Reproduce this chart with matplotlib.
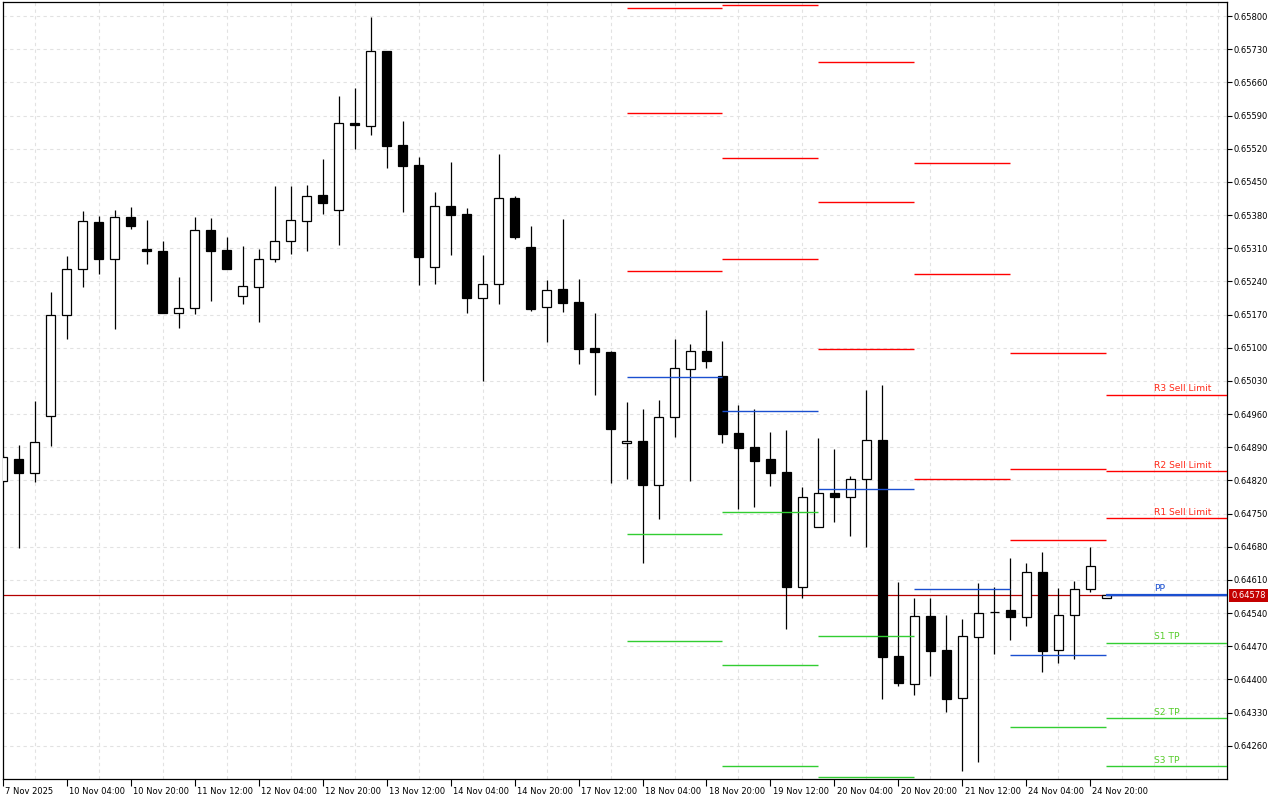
import matplotlib
matplotlib.use("Agg")
import matplotlib.pyplot as plt
import matplotlib.transforms as mtrans
from matplotlib.ticker import FixedLocator, MultipleLocator
import numpy as np

# H4 bars, 7 Nov 12:00 .. 25 Nov 00:00
opens = [0.64819, 0.64865, 0.64836, 0.64956, 0.65169, 0.65266, 0.65365, 0.65287, 0.65376, 0.65308,
         0.65304, 0.65173, 0.65184, 0.65348, 0.65306, 0.65209, 0.65228, 0.65287, 0.65325, 0.65367,
         0.65422, 0.65391, 0.65574, 0.65568, 0.65726, 0.65528, 0.65486, 0.65270, 0.65399, 0.65382,
         0.65205, 0.65234, 0.65416, 0.65312, 0.65186, 0.65224, 0.65196, 0.65099, 0.65091, 0.64899,
         0.64903, 0.64810, 0.64954, 0.65055, 0.65093, 0.65040, 0.64920, 0.64890, 0.64865, 0.64838,
         0.64595, 0.64722, 0.64793, 0.64785, 0.64823, 0.64905, 0.64449, 0.64390, 0.64534, 0.64462,
         0.64361, 0.64489, 0.64542, 0.64546, 0.64532, 0.64627, 0.64462, 0.64536, 0.64591, 0.64572]
highs = [0.64874, 0.64895, 0.64987, 0.65218, 0.65293, 0.65388, 0.65378, 0.65391, 0.65397, 0.65369,
         0.65325, 0.65249, 0.65376, 0.65374, 0.65334, 0.65315, 0.65308, 0.65441, 0.65441, 0.65443,
         0.65498, 0.65631, 0.65648, 0.65798, 0.65726, 0.65578, 0.65502, 0.65429, 0.65492, 0.65395,
         0.65296, 0.65509, 0.65420, 0.65357, 0.65243, 0.65372, 0.65245, 0.65173, 0.65093, 0.64985,
         0.64971, 0.64990, 0.65118, 0.65108, 0.65180, 0.65114, 0.64979, 0.64971, 0.64922, 0.64926,
         0.64806, 0.64909, 0.64886, 0.64829, 0.65011, 0.65021, 0.64606, 0.64572, 0.64572, 0.64536,
         0.64527, 0.64603, 0.64595, 0.64656, 0.64646, 0.64669, 0.64593, 0.64608, 0.64679, 0.64578]
lows = [0.64817, 0.64677, 0.64817, 0.64892, 0.65118, 0.65228, 0.65256, 0.65139, 0.65350, 0.65277,
        0.65173, 0.65142, 0.65171, 0.65199, 0.65266, 0.65192, 0.65154, 0.65281, 0.65298, 0.65304,
        0.65382, 0.65317, 0.65519, 0.65549, 0.65479, 0.65386, 0.65232, 0.65234, 0.65296, 0.65173,
        0.65030, 0.65192, 0.65329, 0.65177, 0.65112, 0.65175, 0.65066, 0.65000, 0.64814, 0.64823,
        0.64646, 0.64738, 0.64911, 0.64819, 0.65057, 0.64899, 0.64760, 0.64764, 0.64808, 0.64506,
        0.64572, 0.64722, 0.64732, 0.64703, 0.64679, 0.64359, 0.64386, 0.64367, 0.64407, 0.64331,
        0.64207, 0.64226, 0.64454, 0.64483, 0.64513, 0.64416, 0.64435, 0.64443, 0.64584, 0.64572]
closes = [0.64869, 0.64836, 0.64901, 0.65169, 0.65266, 0.65367, 0.65287, 0.65376, 0.65357, 0.65304,
          0.65173, 0.65184, 0.65348, 0.65304, 0.65266, 0.65230, 0.65287, 0.65325, 0.65369, 0.65420,
          0.65405, 0.65574, 0.65570, 0.65726, 0.65526, 0.65483, 0.65291, 0.65399, 0.65380, 0.65205,
          0.65234, 0.65416, 0.65334, 0.65182, 0.65222, 0.65194, 0.65097, 0.65091, 0.64928, 0.64903,
          0.64810, 0.64954, 0.65057, 0.65093, 0.65072, 0.64918, 0.64888, 0.64861, 0.64836, 0.64595,
          0.64785, 0.64793, 0.64785, 0.64823, 0.64905, 0.64447, 0.64392, 0.64534, 0.64460, 0.64359,
          0.64492, 0.64540, 0.64542, 0.64532, 0.64627, 0.64460, 0.64536, 0.64591, 0.64639, 0.64578]

time_labels = ["7 Nov 2025", "10 Nov 04:00", "10 Nov 20:00", "11 Nov 12:00", "12 Nov 04:00",
               "12 Nov 20:00", "13 Nov 12:00", "14 Nov 04:00", "14 Nov 20:00", "17 Nov 12:00",
               "18 Nov 04:00", "18 Nov 20:00", "19 Nov 12:00", "20 Nov 04:00", "20 Nov 20:00",
               "21 Nov 12:00", "24 Nov 04:00", "24 Nov 20:00"]
time_label_bars = [0, 4, 8, 12, 16, 20, 24, 28, 32, 36, 40, 44, 48, 52, 56, 60, 64, 68]

# daily pivot levels, one entry per day (18 Nov .. 25 Nov), starting at that day's first bar
day_start = [39, 45, 51, 57, 63, 69]
nan = np.nan
r3 = [0.65816, 0.65823, 0.65702, 0.65490, 0.65088, 0.65000]
r2 = [0.65595, 0.65500, 0.65407, 0.65256, 0.64845, 0.64839]
r1 = [0.65261, 0.65287, 0.65097, 0.64824, 0.64694, 0.64740]
pp = [0.65038, 0.64966, 0.64801, 0.64590, 0.64451, 0.64579]
s1 = [0.64706, 0.64753, 0.64491, nan, 0.64299, 0.64478]
s2 = [0.64482, 0.64430, 0.64195, nan, nan, 0.64318]
s3 = [nan, 0.64217, nan, nan, nan, 0.64217]
level_names = ["R3 Sell Limit", "R2 Sell Limit", "R1 Sell Limit", "PP", "S1 TP", "S2 TP", "S3 TP"]

last_price = 0.64578

RED = "#ff0000"
GREEN = "#32cd32"
BLUE = "#1a4fd0"

plt.rcParams['font.family'] = ['DejaVu Sans']

fig = plt.figure(figsize=(12.8, 8), dpi=100, facecolor="white")
ax = fig.add_axes([0.0021, 0.02625, 0.9563, 0.97088])

x_left, x_right = 0.025, 76.525
ax.set_xlim(x_left, x_right)
ax.set_ylim(0.64190, 0.65829)

# candles
xs = np.arange(len(opens))
o = np.array(opens)
c = np.array(closes)
up = c >= o
ax.vlines(xs, lows, highs, color="black", linewidth=0.9, zorder=3)
bottoms = np.minimum(o, c)
heights = np.abs(c - o)
ax.bar(xs[up], heights[up], bottom=bottoms[up], width=0.6, facecolor="white",
       edgecolor="black", linewidth=0.9, zorder=4)
ax.bar(xs[~up], heights[~up], bottom=bottoms[~up], width=0.6, facecolor="black",
       edgecolor="black", linewidth=0.9, zorder=4)

# current price line
ax.axhline(last_price, color="#b40000", linewidth=0.9, zorder=2)

# pivot segments
ends = day_start[1:] + [x_right]
levels = [(r3, RED), (r2, RED), (r1, RED), (pp, BLUE), (s1, GREEN), (s2, GREEN), (s3, GREEN)]
for vals, col in levels:
    ax.hlines(vals, day_start, ends, color=col, linewidth=1.0, zorder=5)
ax.hlines(pp[-1], day_start[-1], x_right, color=BLUE, linewidth=1.6, zorder=5)

label_colors = ["#ff2a1a", "#ff2a1a", "#ff2a1a", BLUE, "#55cc2a", "#55cc2a", "#55cc2a"]
for (vals, col), name, tcol in zip(levels, level_names, label_colors):
    ax.annotate(name, xy=(72, vals[-1]), xytext=(0, 1.2), textcoords="offset points",
                ha="left", va="bottom", fontsize=6.6, color=tcol, zorder=6)

# price scale on the right
ax.yaxis.tick_right()
yt = np.round(np.arange(0.64260, 0.65801, 0.0007), 5)
ax.yaxis.set_major_locator(FixedLocator(yt))
ax.set_yticklabels([f"{v:.5f}" for v in yt])
ax.tick_params(axis="y", direction="out", length=3.5, width=0.8, pad=1.5, labelsize=6)

# time scale
ax.set_xticks(time_label_bars)
ax.set_xticklabels(time_labels, ha="left")
ax.xaxis.set_minor_locator(MultipleLocator(2))
ax.tick_params(axis="x", which="major", direction="out", length=5, width=0.8, pad=0.5, labelsize=6)
ax.tick_params(axis="x", which="minor", length=0)
offset = mtrans.ScaledTranslation(1.5 / 72, 0, fig.dpi_scale_trans)
for lbl in ax.get_xticklabels():
    lbl.set_transform(lbl.get_transform() + offset)

ax.grid(True, which="major", axis="y", color="#e2e2e2", linestyle=(0, (3, 3)), linewidth=0.8, zorder=0)
ax.grid(True, which="minor", axis="x", color="#e2e2e2", linestyle=(0, (3, 3)), linewidth=0.8, zorder=0)
ax.set_axisbelow(True)

for sp in ax.spines.values():
    sp.set_color("black")
    sp.set_linewidth(0.9)

# last price tag
ax.annotate(f"{last_price:.5f}", xy=(1.0, last_price), xycoords=("axes fraction", "data"),
            xytext=(3.2, 0), textcoords="offset points", ha="left", va="center",
            fontsize=6, color="white", annotation_clip=False,
            bbox=dict(boxstyle="square,pad=0.25", facecolor="#c40000", edgecolor="none"))

fig.savefig("out.png", dpi=100, facecolor="white")
